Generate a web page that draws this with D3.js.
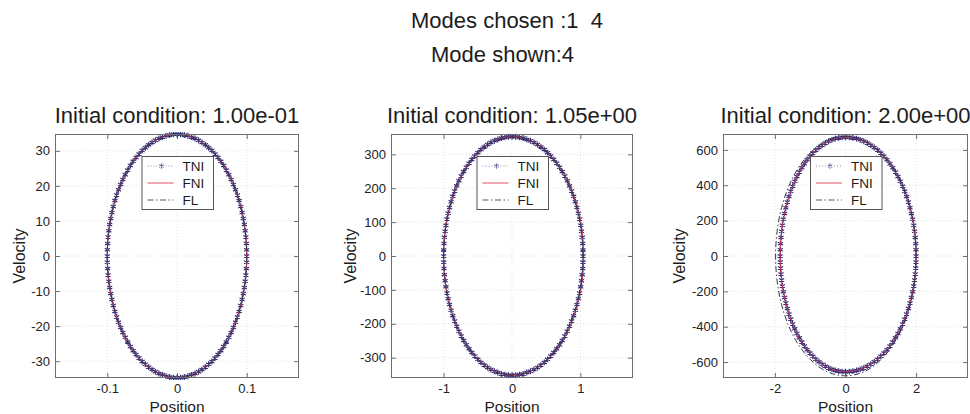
<!DOCTYPE html>
<html>
<head>
<meta charset="utf-8">
<script src="https://cdn.jsdelivr.net/npm/d3@7"></script>
<style>
  body { margin: 0; background: #fff; }
  svg { display: block; }
</style>
</head>
<body>
<svg id="fig" width="970" height="414"></svg>
<script>
// ---- Figure text ----
const supTitle = ["Modes chosen :1  4", "Mode shown:4"];
const panelTitles = ["Initial condition: 1.00e-01", "Initial condition: 1.05e+00", "Initial condition: 2.00e+00"];
const xLabel = "Position";
const yLabel = "Velocity";
const seriesNames = ["TNI", "FNI", "FL"];

// ---- Axis limits and ticks ----
const xLims = [[-0.175, 0.175], [-1.77, 1.77], [-3.47, 3.47]];
const yLims = [[-34.8, 34.8], [-360, 360], [-690, 690]];
const xTicks1 = [-0.1, 0, 0.1];
const xTicks2 = [-1, 0, 1];
const xTicks3 = [-2, 0, 2];
const yTicks1 = [-30, -20, -10, 0, 10, 20, 30];
const yTicks2 = [-300, -200, -100, 0, 100, 200, 300];
const yTicks3 = [-600, -400, -200, 0, 200, 400, 600];

// ---- TNI trajectories (position, velocity), one orbit each ----
const tniPos1 = [
  0.1, 0.0999, 0.0995, 0.0988, 0.0978, 0.0966, 0.0951, 0.0934, 0.0914, 0.0891, 0.0866, 0.0839, 0.0809, 0.0777, 0.0743, 0.0707, 0.0669, 0.0629, 0.0588, 0.0545, 0.05, 0.0454, 0.0407, 0.0358, 0.0309, 0.0259, 0.0208, 0.0156, 0.0105, 0.0052, 0,
  -0.0052, -0.0105, -0.0156, -0.0208, -0.0259, -0.0309, -0.0358, -0.0407, -0.0454, -0.05, -0.0545, -0.0588, -0.0629, -0.0669, -0.0707, -0.0743, -0.0777, -0.0809, -0.0839, -0.0866, -0.0891, -0.0914, -0.0934, -0.0951, -0.0966, -0.0978, -0.0988, -0.0995, -0.0999, -0.1,
  -0.0999, -0.0995, -0.0988, -0.0978, -0.0966, -0.0951, -0.0934, -0.0914, -0.0891, -0.0866, -0.0839, -0.0809, -0.0777, -0.0743, -0.0707, -0.0669, -0.0629, -0.0588, -0.0545, -0.05, -0.0454, -0.0407, -0.0358, -0.0309, -0.0259, -0.0208, -0.0156, -0.0105, -0.0052, 0,
  0.0052, 0.0105, 0.0156, 0.0208, 0.0259, 0.0309, 0.0358, 0.0407, 0.0454, 0.05, 0.0545, 0.0588, 0.0629, 0.0669, 0.0707, 0.0743, 0.0777, 0.0809, 0.0839, 0.0866, 0.0891, 0.0914, 0.0934, 0.0951, 0.0966, 0.0978, 0.0988, 0.0995, 0.0999
];
const tniVel1 = [
  0, -1.8, -3.6, -5.4, -7.2, -9.0, -10.7, -12.4, -14.1, -15.8, -17.4, -18.9, -20.4, -21.8, -23.2, -24.5, -25.8, -27.0, -28.1, -29.1, -30.1, -30.9, -31.7, -32.4, -33.0, -33.5, -33.9, -34.3, -34.5, -34.7, -34.7,
  -34.7, -34.5, -34.3, -33.9, -33.5, -33.0, -32.4, -31.7, -30.9, -30.1, -29.1, -28.1, -27.0, -25.8, -24.5, -23.2, -21.8, -20.4, -18.9, -17.4, -15.8, -14.1, -12.4, -10.7, -9.0, -7.2, -5.4, -3.6, -1.8, 0,
  1.8, 3.6, 5.4, 7.2, 9.0, 10.7, 12.4, 14.1, 15.8, 17.4, 18.9, 20.4, 21.8, 23.2, 24.5, 25.8, 27.0, 28.1, 29.1, 30.1, 30.9, 31.7, 32.4, 33.0, 33.5, 33.9, 34.3, 34.5, 34.7, 34.7,
  34.7, 34.5, 34.3, 33.9, 33.5, 33.0, 32.4, 31.7, 30.9, 30.1, 29.1, 28.1, 27.0, 25.8, 24.5, 23.2, 21.8, 20.4, 18.9, 17.4, 15.8, 14.1, 12.4, 10.7, 9.0, 7.2, 5.4, 3.6, 1.8
];
const tniPos2 = [
  1.04, 1.039, 1.034, 1.027, 1.017, 1.005, 0.989, 0.971, 0.950, 0.927, 0.901, 0.872, 0.841, 0.808, 0.773, 0.735, 0.696, 0.654, 0.611, 0.566, 0.52, 0.472, 0.423, 0.373, 0.321, 0.269, 0.216, 0.163, 0.109, 0.054, 0,
  -0.052, -0.105, -0.156, -0.208, -0.259, -0.309, -0.358, -0.407, -0.454, -0.5, -0.545, -0.588, -0.629, -0.669, -0.707, -0.743, -0.777, -0.809, -0.839, -0.866, -0.891, -0.914, -0.934, -0.951, -0.966, -0.978, -0.988, -0.995, -0.999, -1.0,
  -0.999, -0.995, -0.988, -0.978, -0.966, -0.951, -0.934, -0.914, -0.891, -0.866, -0.839, -0.809, -0.777, -0.743, -0.707, -0.669, -0.629, -0.588, -0.545, -0.5, -0.454, -0.407, -0.358, -0.309, -0.259, -0.208, -0.156, -0.105, -0.052, 0,
  0.054, 0.109, 0.163, 0.216, 0.269, 0.321, 0.373, 0.423, 0.472, 0.52, 0.566, 0.611, 0.654, 0.696, 0.735, 0.773, 0.808, 0.841, 0.872, 0.901, 0.927, 0.950, 0.971, 0.989, 1.005, 1.017, 1.027, 1.034, 1.039
];
const tniVel2 = [
  0, -18, -37, -55, -73, -91, -109, -126, -143, -160, -176, -192, -207, -222, -236, -249, -262, -274, -285, -295, -305, -314, -322, -329, -335, -340, -344, -348, -350, -352, -352,
  -352, -350, -348, -344, -340, -335, -329, -322, -314, -305, -295, -285, -274, -262, -249, -236, -222, -207, -192, -176, -160, -143, -126, -109, -91, -73, -55, -37, -18, 0,
  18, 37, 55, 73, 91, 109, 126, 143, 160, 176, 192, 207, 222, 236, 249, 262, 274, 285, 295, 305, 314, 322, 329, 335, 340, 344, 348, 350, 352, 352,
  352, 350, 348, 344, 340, 335, 329, 322, 314, 305, 295, 285, 274, 262, 249, 236, 222, 207, 192, 176, 160, 143, 126, 109, 91, 73, 55, 37, 18
];
const tniPos3 = [
  2.0, 1.997, 1.989, 1.975, 1.956, 1.932, 1.902, 1.867, 1.827, 1.782, 1.732, 1.677, 1.618, 1.554, 1.486, 1.414, 1.338, 1.259, 1.176, 1.089, 1.0, 0.908, 0.813, 0.717, 0.618, 0.518, 0.416, 0.313, 0.209, 0.105, 0,
  -0.097, -0.193, -0.289, -0.385, -0.479, -0.572, -0.663, -0.752, -0.840, -0.925, -1.008, -1.087, -1.164, -1.238, -1.308, -1.375, -1.438, -1.497, -1.552, -1.602, -1.648, -1.690, -1.727, -1.760, -1.787, -1.810, -1.827, -1.840, -1.847, -1.85,
  -1.847, -1.840, -1.827, -1.810, -1.787, -1.760, -1.727, -1.690, -1.648, -1.602, -1.552, -1.497, -1.438, -1.375, -1.308, -1.238, -1.164, -1.087, -1.008, -0.925, -0.840, -0.752, -0.663, -0.572, -0.479, -0.385, -0.289, -0.193, -0.097, 0,
  0.105, 0.209, 0.313, 0.416, 0.518, 0.618, 0.717, 0.813, 0.908, 1.0, 1.089, 1.176, 1.259, 1.338, 1.414, 1.486, 1.554, 1.618, 1.677, 1.732, 1.782, 1.827, 1.867, 1.902, 1.932, 1.956, 1.975, 1.989, 1.997
];
const tniVel3 = [
  0, -34, -68, -102, -136, -170, -202, -235, -266, -297, -328, -357, -385, -412, -438, -463, -487, -509, -530, -549, -567, -584, -598, -612, -623, -633, -641, -647, -651, -654, -655,
  -654, -651, -647, -641, -633, -623, -612, -598, -584, -567, -549, -530, -509, -487, -463, -438, -412, -385, -357, -328, -297, -266, -235, -202, -170, -136, -102, -68, -34, 0,
  35, 70, 105, 140, 174, 208, 241, 273, 305, 336, 366, 395, 423, 450, 475, 499, 522, 544, 564, 582, 599, 614, 627, 639, 649, 657, 664, 668, 671, 672,
  671, 668, 664, 657, 649, 639, 627, 614, 599, 582, 564, 544, 522, 499, 475, 450, 423, 395, 366, 336, 305, 273, 241, 208, 174, 140, 105, 70, 35
];

// ---- FNI trajectories ----
const fniPos1 = [0.1, 0.0978, 0.0914, 0.0809, 0.0669, 0.05, 0.0309, 0.0105, -0.0105, -0.0309, -0.05, -0.0669, -0.0809, -0.0914, -0.0978, -0.1, -0.0978, -0.0914, -0.0809, -0.0669, -0.05, -0.0309, -0.0105, 0.0105, 0.0309, 0.05, 0.0669, 0.0809, 0.0914, 0.0978];
const fniVel1 = [0, -7.2, -14.1, -20.4, -25.8, -30.1, -33.0, -34.5, -34.5, -33.0, -30.1, -25.8, -20.4, -14.1, -7.2, 0, 7.2, 14.1, 20.4, 25.8, 30.1, 33.0, 34.5, 34.5, 33.0, 30.1, 25.8, 20.4, 14.1, 7.2];
const fniPos2 = [1.05, 1.027, 0.959, 0.849, 0.703, 0.525, 0.324, 0.110, -0.105, -0.309, -0.5, -0.669, -0.809, -0.914, -0.978, -1.0, -0.978, -0.914, -0.809, -0.669, -0.5, -0.309, -0.105, 0.110, 0.324, 0.525, 0.703, 0.849, 0.959, 1.027];
const fniVel2 = [0, -73, -143, -207, -262, -305, -335, -350, -350, -335, -305, -262, -207, -143, -73, 0, 73, 143, 207, 262, 305, 335, 350, 350, 335, 305, 262, 207, 143, 73];
const fniPos3 = [2.0, 1.956, 1.827, 1.618, 1.338, 1.0, 0.618, 0.209, -0.193, -0.572, -0.925, -1.238, -1.497, -1.690, -1.810, -1.85, -1.810, -1.690, -1.497, -1.238, -0.925, -0.572, -0.193, 0.209, 0.618, 1.0, 1.338, 1.618, 1.827, 1.956];
const fniVel3 = [0, -136, -266, -385, -487, -567, -623, -651, -651, -623, -567, -487, -385, -266, -136, 0, 140, 273, 395, 499, 582, 639, 668, 668, 639, 582, 499, 395, 273, 140];

// ---- FL trajectories ----
const flPos1 = [0.1, 0.0978, 0.0914, 0.0809, 0.0669, 0.05, 0.0309, 0.0105, -0.0105, -0.0309, -0.05, -0.0669, -0.0809, -0.0914, -0.0978, -0.1, -0.0978, -0.0914, -0.0809, -0.0669, -0.05, -0.0309, -0.0105, 0.0105, 0.0309, 0.05, 0.0669, 0.0809, 0.0914, 0.0978];
const flVel1 = [0, -7.2, -14.1, -20.4, -25.8, -30.1, -33.0, -34.5, -34.5, -33.0, -30.1, -25.8, -20.4, -14.1, -7.2, 0, 7.2, 14.1, 20.4, 25.8, 30.1, 33.0, 34.5, 34.5, 33.0, 30.1, 25.8, 20.4, 14.1, 7.2];
const flPos2 = [1.04, 1.017, 0.950, 0.841, 0.696, 0.52, 0.321, 0.109, -0.105, -0.309, -0.5, -0.669, -0.809, -0.914, -0.978, -1.0, -0.978, -0.914, -0.809, -0.669, -0.5, -0.309, -0.105, 0.109, 0.321, 0.52, 0.696, 0.841, 0.950, 1.017];
const flVel2 = [0, -73, -143, -207, -262, -305, -335, -350, -350, -335, -305, -262, -207, -143, -73, 0, 73, 143, 207, 262, 305, 335, 350, 350, 335, 305, 262, 207, 143, 73];
const flPos3 = [2.0, 1.956, 1.827, 1.618, 1.338, 1.0, 0.618, 0.209, -0.207, -0.612, -0.99, -1.325, -1.602, -1.809, -1.937, -1.98, -1.937, -1.809, -1.602, -1.325, -0.99, -0.612, -0.207, 0.209, 0.618, 1.0, 1.338, 1.618, 1.827, 1.956];
const flVel3 = [0, -141, -276, -399, -504, -587, -645, -674, -674, -645, -587, -504, -399, -276, -141, 0, 140, 275, 397, 502, 585, 642, 671, 671, 642, 585, 502, 397, 275, 140];

// ---- Assemble panels ----
const panels = [
  { title: panelTitles[0], xLim: xLims[0], yLim: yLims[0], xTicks: xTicks1, yTicks: yTicks1,
    tni: d3.zip(tniPos1, tniVel1), fni: d3.zip(fniPos1, fniVel1), fl: d3.zip(flPos1, flVel1) },
  { title: panelTitles[1], xLim: xLims[1], yLim: yLims[1], xTicks: xTicks2, yTicks: yTicks2,
    tni: d3.zip(tniPos2, tniVel2), fni: d3.zip(fniPos2, fniVel2), fl: d3.zip(flPos2, flVel2) },
  { title: panelTitles[2], xLim: xLims[2], yLim: yLims[2], xTicks: xTicks3, yTicks: yTicks3,
    tni: d3.zip(tniPos3, tniVel3), fni: d3.zip(fniPos3, fniVel3), fl: d3.zip(flPos3, flVel3) }
];

// ---- Layout ----
const FONT = '"Liberation Sans", Arial, Helvetica, sans-serif';
const boxLeft = [55, 391, 723];
const boxRight = [299, 633, 968];
const boxTop = 134, boxBottom = 378;
const yLabelX = [25, 356, 685];

const C_TNI = "#33337c";
const C_FNI = "#d8324a";
const C_FL = "#363646";
const C_AX = "#6e6e6e";

const svg = d3.select("#fig");

// Figure super-title (two lines)
svg.append("text").attr("x", 411).attr("y", 28)
  .attr("font-family", FONT).attr("font-size", 22).attr("fill", "#1c1c1c")
  .style("white-space", "pre").text(supTitle[0]);
svg.append("text").attr("x", 431).attr("y", 62)
  .attr("font-family", FONT).attr("font-size", 22).attr("fill", "#1c1c1c")
  .text(supTitle[1]);

const asterisk = d3.symbol(d3.symbolAsterisk, 24);
const asteriskLegend = d3.symbol(d3.symbolAsterisk, 20);

panels.forEach((p, i) => {
  const L = boxLeft[i], R = boxRight[i];
  const x = d3.scaleLinear().domain(p.xLim).range([L, R]);
  const y = d3.scaleLinear().domain(p.yLim).range([boxBottom, boxTop]);
  const g = svg.append("g");

  // Grid
  const grid = g.append("g").attr("stroke", "#dadada").attr("stroke-width", 0.8).attr("stroke-dasharray", "1,2");
  grid.selectAll("line.gx").data(p.xTicks).join("line").attr("class", "gx")
    .attr("x1", d => x(d)).attr("x2", d => x(d)).attr("y1", boxTop).attr("y2", boxBottom);
  grid.selectAll("line.gy").data(p.yTicks).join("line").attr("class", "gy")
    .attr("y1", d => y(d)).attr("y2", d => y(d)).attr("x1", L).attr("x2", R);

  // Axes with inward ticks on all four sides
  const styleAxis = s => {
    s.select(".domain").remove();
    s.selectAll(".tick line").attr("stroke", C_AX);
    s.selectAll(".tick text").attr("font-family", FONT).attr("font-size", 13).attr("fill", "#222");
  };
  g.append("g").attr("transform", `translate(0,${boxBottom})`)
    .call(d3.axisBottom(x).tickValues(p.xTicks).tickSize(-5).tickPadding(6).tickFormat(d => String(d)))
    .call(styleAxis);
  g.append("g").attr("transform", `translate(0,${boxTop})`)
    .call(d3.axisTop(x).tickValues(p.xTicks).tickSize(-5).tickFormat(""))
    .call(styleAxis);
  g.append("g").attr("transform", `translate(${L},0)`)
    .call(d3.axisLeft(y).tickValues(p.yTicks).tickSize(-5).tickPadding(5).tickFormat(d => String(d)))
    .call(styleAxis);
  g.append("g").attr("transform", `translate(${R},0)`)
    .call(d3.axisRight(y).tickValues(p.yTicks).tickSize(-5).tickFormat(""))
    .call(styleAxis);

  // Data, clipped to the axes box
  const clipId = "clip" + i;
  svg.append("clipPath").attr("id", clipId).append("rect")
    .attr("x", L).attr("y", boxTop - 2).attr("width", R - L).attr("height", boxBottom - boxTop + 4);
  const data = g.append("g").attr("clip-path", `url(#${clipId})`);

  const lineLin = d3.line().x(d => x(d[0])).y(d => y(d[1])).curve(d3.curveLinearClosed);
  const lineSmooth = d3.line().x(d => x(d[0])).y(d => y(d[1])).curve(d3.curveCatmullRomClosed);

  // TNI: dotted line with asterisk markers
  data.append("path").datum(p.tni).attr("d", lineLin)
    .attr("fill", "none").attr("stroke", C_TNI).attr("stroke-width", 1.2).attr("stroke-dasharray", "1,1.5");
  data.append("g").selectAll("path").data(p.tni).join("path")
    .attr("transform", d => `translate(${x(d[0])},${y(d[1])})`)
    .attr("d", asterisk).attr("fill", "none").attr("stroke", C_TNI).attr("stroke-width", 1.2);

  // FNI: solid red
  data.append("path").datum(p.fni).attr("d", lineSmooth)
    .attr("fill", "none").attr("stroke", C_FNI).attr("stroke-width", 1).attr("stroke-opacity", 0.8);

  // FL: dash-dot
  data.append("path").datum(p.fl).attr("d", lineSmooth)
    .attr("fill", "none").attr("stroke", C_FL).attr("stroke-width", 1).attr("stroke-dasharray", "6,2.5,1.5,2.5");

  // Axes box
  g.append("rect").attr("x", L + 0.5).attr("y", boxTop + 0.5)
    .attr("width", R - L - 1).attr("height", boxBottom - boxTop - 1)
    .attr("fill", "none").attr("stroke", C_AX).attr("stroke-width", 1);

  // Title and axis labels
  const cx = (L + R) / 2;
  g.append("text").attr("x", cx).attr("y", 123).attr("text-anchor", "middle")
    .attr("font-family", FONT).attr("font-size", 22).attr("fill", "#1c1c1c").text(p.title);
  g.append("text").attr("x", cx).attr("y", 412).attr("text-anchor", "middle")
    .attr("font-family", FONT).attr("font-size", 15.5).attr("fill", "#1c1c1c").text(xLabel);
  g.append("text").attr("transform", `translate(${yLabelX[i]},${(boxTop + boxBottom) / 2}) rotate(-90)`)
    .attr("text-anchor", "middle")
    .attr("font-family", FONT).attr("font-size", 16).attr("fill", "#1c1c1c").text(yLabel);

  // Legend (top centre of axes)
  const lgX = cx - 35.5, lgY = 156, lgW = 71.5, lgH = 53;
  const lg = g.append("g");
  lg.append("rect").attr("x", lgX + 0.5).attr("y", lgY + 0.5).attr("width", lgW).attr("height", lgH)
    .attr("fill", "#fff").attr("stroke", "#555").attr("stroke-width", 1);
  const rows = [
    { name: seriesNames[0], stroke: C_TNI, dash: "1,2", marker: true },
    { name: seriesNames[1], stroke: C_FNI, dash: null, marker: false },
    { name: seriesNames[2], stroke: C_FL, dash: "6,2.5,1.5,2.5", marker: false }
  ];
  rows.forEach((r, k) => {
    const ry = lgY + 10 + k * 17;
    lg.append("line").attr("x1", lgX + 6).attr("x2", lgX + 32).attr("y1", ry).attr("y2", ry)
      .attr("stroke", r.stroke).attr("stroke-width", 1)
      .attr("stroke-opacity", r.marker ? 0.55 : 0.85)
      .attr("stroke-dasharray", r.dash);
    if (r.marker) {
      lg.append("path").attr("transform", `translate(${lgX + 20},${ry})`)
        .attr("d", asteriskLegend).attr("fill", "none").attr("stroke", C_TNI).attr("stroke-width", 1.1).attr("stroke-opacity", 0.7);
    }
    lg.append("text").attr("x", lgX + 41).attr("y", ry + 5)
      .attr("font-family", FONT).attr("font-size", 13.5).attr("fill", "#1c1c1c").text(r.name);
  });
});
</script>
</body>
</html>
